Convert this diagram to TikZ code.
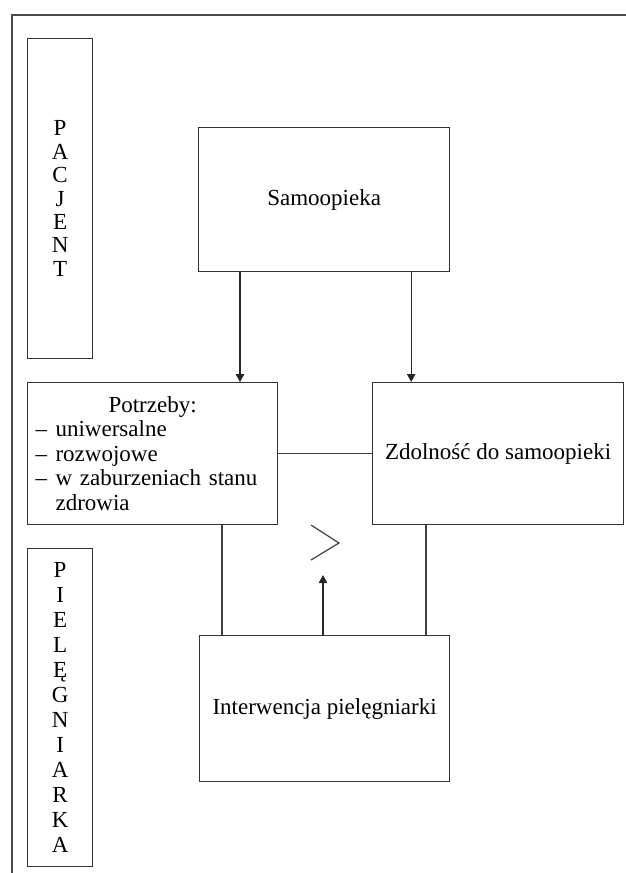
\documentclass[tikz,border=0pt]{standalone}
\usepackage{fontspec}
\setmainfont{Liberation Serif}
\usetikzlibrary{arrows.meta,calc}

\begin{document}
\begin{tikzpicture}[
  x=0.5pt,y=-0.5pt,
  font=\fontsize{11.5}{14}\selectfont,
  >={Triangle[length=4pt,width=4.2pt]},
  box/.style={draw=black!80,line width=0.6pt,align=center,inner sep=0pt,anchor=north west},
  col/.style={box,minimum width=32.5pt},
  ar/.style={->,line width=0.6pt,black!85},
  ln/.style={line width=0.6pt,black!75},
]
\useasboundingbox (0,0) rectangle (626,873);
% frame: only left and top edge
\draw[ln,black!70] (12,873) -- (12,15) -- (626,15);

\node[col,minimum height=160pt,font=\fontsize{11.5}{11.7}\selectfont] (pac) at (27,38) {P\\A\\C\\J\\E\\N\\T};
\node[col,minimum height=159pt,font=\fontsize{11.5}{12.5}\selectfont] (piel) at (27,548) {P\\I\\E\\L\\Ę\\G\\N\\I\\A\\R\\K\\A};

\node[box,minimum width=125.5pt,minimum height=72pt] (samo) at (198,127) {Samoopieka};
\node[box,minimum width=125pt,minimum height=71pt,text width=117pt,inner xsep=4pt,align=left,
      font=\fontsize{11.5}{12.25}\selectfont] (potrz) at (27,382)
  {\makebox[\linewidth]{Potrzeby:}\\
   \makebox[10pt][l]{–}uniwersalne\\
   \makebox[10pt][l]{–}rozwojowe\\
   \makebox[10pt][l]{–}w zaburzeniach stanu\\
   \hspace*{10pt}zdrowia};
\node[box,minimum width=125.5pt,minimum height=71pt] (zdol) at (372,382) {Zdolność do samoopieki};
\node[box,minimum width=125pt,minimum height=73pt] (inter) at (199,635) {Interwencja pielęgniarki};

\coordinate (s1) at ($(samo.south west)+(42,0)$);
\coordinate (s2) at ($(samo.south east)+(-39,0)$);
\coordinate (p1) at ($(potrz.south west)+(195,0)$);
\coordinate (z1) at ($(zdol.south west)+(54,0)$);
\coordinate (tip) at (323,575);

\draw[ar] (s1) -- (s1 |- potrz.north);
\draw[ar] (s2) -- (s2 |- zdol.north);
\draw[ln] (potrz.east) -- (potrz.east -| zdol.west);
\draw[ln] (p1) -- (p1 |- inter.north);
\draw[ln] (z1) -- (z1 |- inter.north);
\draw[ar] (inter.north -| tip) -- (tip);

% the > sign between the boxes
\draw[ln] (311,525) -- (339,543) -- (311,560);
\end{tikzpicture}
\end{document}
